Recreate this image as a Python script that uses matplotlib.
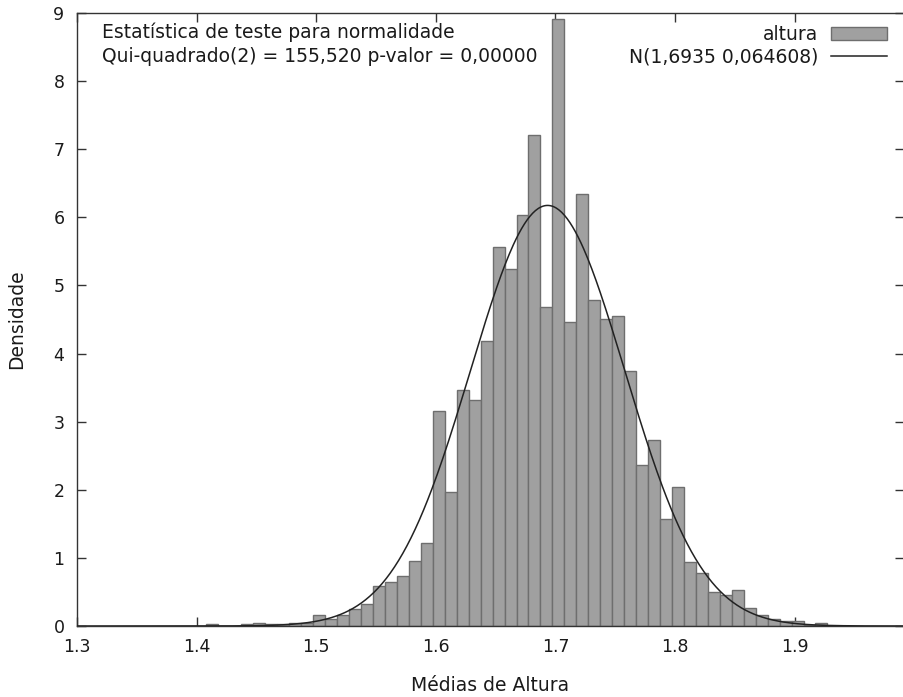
import numpy as np
import matplotlib
matplotlib.use("Agg")
import matplotlib.pyplot as plt

# frequency table (bin width 0.01)
mids = [1.4125, 1.4225, 1.4325, 1.4425, 1.4525, 1.4625, 1.4725, 1.4825, 1.4925,
        1.5025, 1.5125, 1.5225, 1.5325, 1.5425, 1.5525, 1.5625, 1.5725, 1.5825, 1.5925,
        1.6025, 1.6125, 1.6225, 1.6325, 1.6425, 1.6525, 1.6625, 1.6725, 1.6825, 1.6925,
        1.7025, 1.7125, 1.7225, 1.7325, 1.7425, 1.7525, 1.7625, 1.7725, 1.7825, 1.7925,
        1.8025, 1.8125, 1.8225, 1.8325, 1.8425, 1.8525, 1.8625, 1.8725, 1.8825, 1.8925,
        1.9025, 1.9125, 1.9225]
densidade = [0.03, 0.0, 0.0, 0.03, 0.05, 0.03, 0.03, 0.05, 0.04,
             0.16, 0.10, 0.16, 0.25, 0.32, 0.58, 0.64, 0.74, 0.96, 1.22,
             3.16, 1.97, 3.47, 3.32, 4.18, 5.56, 5.24, 6.04, 7.21, 4.68,
             8.91, 4.46, 6.34, 4.79, 4.51, 4.55, 3.75, 2.37, 2.73, 1.57,
             2.04, 0.94, 0.78, 0.50, 0.45, 0.53, 0.27, 0.16, 0.11, 0.07,
             0.07, 0.02, 0.05]
bin_w = 0.01

mu = 1.6935
sd = 0.064608
chi2 = "155,520"
pval = "0,00000"

xticks = [1.3, 1.4, 1.5, 1.6, 1.7, 1.8, 1.9]
yticks = list(range(0, 10))

plt.rcParams['font.family'] = ['DejaVu Sans']
fs = 12.5      # tick labels
fs_txt = 13.5  # labels, legend, annotation
txt_col = '#1a1a1a'

fig = plt.figure(figsize=(9.04, 6.97), dpi=100)
ax = fig.add_axes([77 / 904, 71 / 697, 1 - 77 / 904, 613 / 697])

bars = ax.bar(mids, densidade, width=bin_w, color='#a0a0a0', edgecolor='#6e6e6e',
              linewidth=1.0, zorder=2)

xs = np.linspace(1.3, 1.9915, 600)
ys = np.exp(-0.5 * ((xs - mu) / sd) ** 2) / (sd * np.sqrt(2 * np.pi))
curve, = ax.plot(xs, ys, color='#222222', linewidth=1.1, zorder=3)

ax.set_xlim(1.3, 1.9915)
ax.set_ylim(0, 9)
ax.set_xticks(xticks)
ax.set_xticklabels([str(t) for t in xticks])
ax.set_yticks(yticks)
ax.tick_params(direction='in', length=6.5, width=1, top=True, right=True,
               labelsize=fs, labelcolor=txt_col, color='#333333', pad=9)
for s in ax.spines.values():
    s.set_color('#333333')
    s.set_linewidth(1.0)

ax.set_xlabel('Médias de Altura', fontsize=fs_txt, color=txt_col)
ax.xaxis.set_label_coords(0.5, -0.081)
ax.set_ylabel('Densidade', fontsize=fs_txt, color=txt_col)
ax.yaxis.set_label_coords(-0.062, 0.5)

fig.text(102 / 904, 1 - 38 / 697, 'Estatística de teste para normalidade',
         fontsize=fs_txt, color=txt_col, va='baseline', ha='left', zorder=1)
fig.text(102 / 904, 1 - 62 / 697,
         'Qui-quadrado(2) = ' + chi2 + ' p-valor = ' + pval,
         fontsize=fs_txt, color=txt_col, va='baseline', ha='left', zorder=1)

leg = ax.legend([bars, curve], ['altura', 'N(1,6935 0,064608)'],
                loc='upper right', bbox_to_anchor=(887.5 / 904, 1 - 25 / 697),
                bbox_transform=fig.transFigure, frameon=False, markerfirst=False,
                fontsize=fs_txt, handlelength=3.0, handleheight=0.65,
                handletextpad=0.7, labelspacing=0.2, borderaxespad=0, borderpad=0)
for t in leg.get_texts():
    t.set_color(txt_col)

fig.savefig('out.png', dpi=100)
